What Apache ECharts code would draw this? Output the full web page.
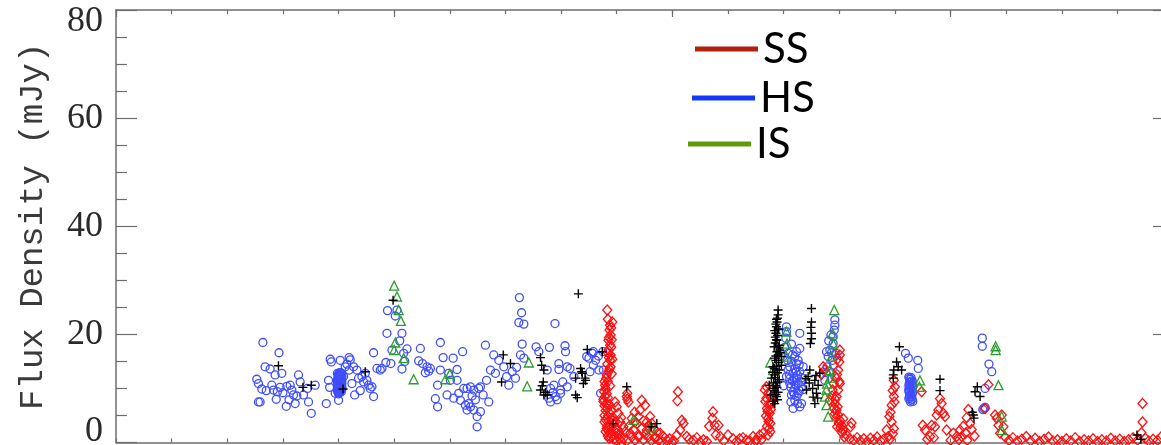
<!DOCTYPE html>
<html>
<head>
<meta charset="utf-8">
<title>Flux Density</title>
<script src="https://cdn.jsdelivr.net/npm/echarts@6/dist/echarts.min.js"></script>
<style>
  html, body { margin: 0; padding: 0; background: #fff; }
  #chart { width: 1161px; height: 445px; }
</style>
</head>
<body>
<div id="chart"></div>
<script>
// Time axis in days from the start of the monitoring; flux density in mJy.
const xRange = [0, 1880];
const yTicks = [0, 20, 40, 60, 80];
const legendNames = ['SS', 'HS', 'IS'];

// Hard state (open blue circles)
const hsData = [
  [264,18.5],[293,16.6],[268,14.0],[277,13.6],[286,12.5],[298,12.8],[253,11.7],[256,10.9],[280,10.6],[295,10.2],
  [307,10.4],[313,10.6],[328,12.5],[331,11.2],[319,8.8],[325,8.6],[337,8.8],[256,7.5],[259,7.5],[288,8.0],
  [306,6.7],[322,7.2],[346,7.5],[351,5.4],[358,10.6],[283,9.7],[290,9.4],[316,9.7],[262,9.9],[270,9.6],
  [300,9.2],[311,7.9],[344,10.0],
  [385,15.4],[387,14.9],[403,15.2],[419,15.7],[382,11.5],[384,10.2],[394,9.1],[400,7.8],[378,7.2],[412,14.0],
  [427,14.0],[433,13.4],[436,11.9],[445,11.2],[451,11.5],[454,10.6],[460,10.3],[463,16.6],[469,13.7],[475,13.4],
  [478,13.7],[429,8.8],[457,10.0],[463,8.5],[442,12.2],[409,12.2],[419,13.4],[424,10.9],[415,14.5],[421,15.3],
  [448,12.8],[439,9.6],
  [398,12.8],[401,12.5],[404,12.2],[399,11.9],[403,11.6],[400,11.3],[405,11.0],[399,10.7],[402,10.4],[400,10.1],
  [404,9.8],[401,9.5],[399,9.3],[405,12.6],[406,11.5],[402,12.9],[406,10.2],[398,10.0],
  [400,12.7],[403,12.4],[406,12.1],[398,11.6],[401,11.8],[404,11.4],[406,10.9],[398,11.0],[401,10.8],[404,10.5],
  [398,10.4],[406,9.9],[401,9.9],[403,9.5],[398,9.6],[405,9.4],[402,9.2],[400,9.0],[404,12.9],[399,12.3],
  [485,14.8],[494,14.6],[487,20.2],[488,24.4],[505,24.5],[502,23.4],[514,20.2],[517,16.5],[523,17.3],[514,13.6],
  [496,17.1],[510,18.8],[519,15.0],
  [547,17.4],[544,15.1],[551,14.6],[559,14.0],[565,13.7],[583,18.5],[588,15.7],[606,15.6],[623,16.8],[613,13.5],
  [583,13.4],[578,10.6],[574,8.1],[578,6.6],[595,8.8],[616,9.1],[625,10.0],[631,10.0],[637,10.3],[643,9.7],
  [652,10.0],[655,10.3],[628,6.9],[631,6.0],[637,6.6],[643,6.0],[649,4.8],[649,2.9],[655,5.7],[670,7.5],
  [664,18.0],[666,11.5],[673,13.4],[679,16.2],[682,12.8],[688,15.2],[613,11.5],[601,11.5],[598,12.8],[619,7.8],
  [607,8.2],[562,13.2],[556,12.9],[640,8.6],[660,8.8],[646,7.9],[634,7.2],
  [725,26.8],[729,24.0],[724,22.2],[733,21.9],[730,18.2],[727,16.2],[733,15.6],[697,14.0],[712,13.1],[718,11.9],
  [706,10.6],[755,17.7],[760,16.8],[779,17.6],[789,22.0],[807,17.9],[808,16.8],[796,13.5],[811,14.0],[816,13.7],
  [781,10.0],[787,10.6],[799,9.7],[781,7.5],[790,8.5],[799,9.1],[811,10.3],[823,12.2],[850,15.6],[856,16.5],
  [862,15.2],[871,9.1],[868,13.4],[775,13.4],[796,14.6],[846,15.9],[858,16.8],[858,14.3],[867,16.0],[875,16.8],
  [876,13.4],[852,13.1],[785,9.2],[793,7.9],[803,11.2],[778,8.2],[702,12.2],[720,13.9],
  [1205,21.4],[1205,20.5],[1204,19.3],[1229,20.2],[1223,16.8],[1220,15.9],[1226,15.2],[1211,14.0],[1217,12.8],[1229,13.1],
  [1223,11.9],[1211,10.9],[1220,10.0],[1232,10.3],[1226,9.1],[1220,7.8],[1232,7.2],[1217,6.3],[1205,12.2],[1214,8.8],
  [1199,15.9],[1235,14.0],[1208,16.5],[1214,18.2],[1202,17.6],[1229,17.4],[1211,11.8],[1217,9.4],[1223,8.5],[1208,13.4],
  [1226,11.0],[1232,12.0],[1220,13.6],[1214,15.0],[1235,9.8],[1200,10.5],[1229,6.6],[1223,14.6],
  [1210,12.6],[1216,11.4],[1222,10.6],[1228,9.6],[1213,10.2],[1219,8.9],[1225,12.5],[1231,11.3],[1207,15.2],[1216,16.2],
  [1222,13.0],[1228,14.4],[1213,7.5],[1225,7.2],[1219,11.8],
  [1292,22.7],[1292,21.7],[1291,20.8],[1289,19.6],[1289,18.3],[1283,17.1],[1280,15.9],[1288,15.2],[1278,14.0],[1283,13.1],
  [1292,12.2],[1274,11.5],[1286,16.6],[1290,14.3],[1277,16.8],[1281,18.8],[1285,19.9],[1294,16.5],[1276,13.0],
  [1419,16.5],[1424,15.6],[1441,15.2],[1442,13.7],
  [1425,12.1],[1428,11.7],[1431,11.4],[1426,11.1],[1430,10.8],[1427,10.5],[1432,10.2],[1425,9.9],[1429,9.6],[1426,9.3],
  [1431,9.0],[1427,8.7],[1430,8.4],[1425,8.1],[1428,7.8],[1432,7.6],[1426,11.9],[1432,11.0],[1429,12.0],
  [1428,11.2],[1425,10.6],[1431,10.4],[1428,10.0],[1425,9.5],[1432,9.3],[1429,8.9],[1426,8.4],[1431,8.0],[1428,7.5],
  [1557,19.3],[1557,17.8],[1569,14.5],[1574,13.1],[1562,10.0],[1560,6.3],[1562,6.5],[1558,6.1]
];

// Soft state (open red diamonds)
const ssData = [
  [883,24.5],[888,21.7],[887,20.8],[889,19.9],[885,18.9],[888,18.0],[885,17.1],[889,16.2],[888,15.2],[889,14.0],
  [885,13.1],[881,11.9],[879,10.6],[877,9.4],[879,8.5],[881,7.2],[883,6.3],[887,5.4],[891,4.5],[894,3.5],
  [897,2.6],[900,1.7],[905,0.7],[909,0.1],
  [884,22.8],[890,21.2],[886,19.4],[890,17.6],[884,16.6],[886,15.7],[883,14.5],[887,13.6],[882,12.5],[884,11.3],
  [880,10.0],[882,9.0],[876,8.0],[878,6.8],[880,5.9],[884,4.9],[886,4.0],[889,3.1],[885,2.2],[892,1.3],
  [895,0.6],[880,4.2],[883,3.0],[887,1.8],[890,0.9],[878,11.3],[876,7.6],[878,5.0],[882,2.6],[886,0.8],[900,0.4],
  [892,22.3],[891,19.0],[892,15.4],[891,12.7],[888,10.5],[884,8.3],[887,7.0],[890,6.0],[893,4.0],[897,3.8],
  [902,2.4],[906,1.5],[880,2.0],[884,1.2],[878,3.8],
  [918,8.5],[921,7.5],[919,9.1],[919,8.0],[897,7.5],[900,6.6],[903,5.4],[906,3.8],[912,2.9],[924,1.7],
  [930,2.3],[936,3.5],[945,7.8],[951,6.9],[942,6.0],[939,4.8],[933,3.8],[954,3.8],[960,4.8],[963,3.5],
  [966,2.6],[972,2.0],[978,1.7],[984,1.1],[954,2.3],[945,2.6],[990,0.4],[999,0.1],[1010,9.4],[1009,7.7],
  [1017,4.1],[1020,3.5],[1014,2.3],[1026,1.1],[1008,1.4],[1038,0.4],[1050,0.1],[1073,5.7],[1072,4.5],[1076,3.2],
  [1066,3.0],[1083,3.2],[1078,1.4],[1086,1.1],[1100,1.4],[1109,0.7],[1121,0.7],[1133,0.4],[1145,1.1],[1157,1.4],
  [1163,1.7],
  [912,0.8],[918,0.3],[927,1.0],[933,0.4],[940,1.2],[948,0.5],[957,1.0],[962,0.3],[969,0.8],[975,0.4],
  [981,0.2],[995,0.7],[1003,0.3],[1030,0.6],[1044,0.9],[1056,0.5],[1062,0.2],[1092,0.3],[1115,0.2],[1127,0.9],
  [1139,0.3],[1151,0.6],[915,2.0],[922,3.0],[927,4.5],[932,5.6],[948,4.0],[957,3.0],[969,1.0],[951,1.5],
  [939,1.0],[908,4.6],[1150,0.2],[1160,0.5],
  [1169,10.3],[1166,9.7],[1172,9.1],[1169,8.2],[1174,7.2],[1170,6.3],[1175,5.4],[1172,4.5],[1176,3.5],[1174,2.6],
  [1178,7.2],[1178,8.5],[1167,7.6],[1171,5.8],[1168,4.9],[1173,3.9],[1170,3.0],[1177,6.1],[1176,2.0],[1172,1.4],
  [1271,14.0],[1274,13.4],[1268,12.6],
  [1301,17.1],[1301,16.2],[1300,14.9],[1298,13.4],[1295,11.9],[1301,10.9],[1298,9.7],[1295,8.5],[1292,7.2],[1295,6.0],
  [1298,5.1],[1301,4.1],[1304,3.2],[1307,2.3],[1313,1.4],[1322,3.6],[1319,0.7],[1288,9.7],[1290,10.9],[1283,7.8],
  [1307,4.4],[1297,15.5],[1296,12.6],[1300,11.3],[1293,8.0],[1297,6.6],[1290,6.3],[1294,4.6],[1299,3.6],[1302,2.7],
  [1305,1.8],[1309,1.0],[1320,2.9],[1287,8.6],[1292,5.3],[1296,2.9],
  [1326,0.4],[1332,0.9],[1338,0.3],[1344,0.7],[1350,0.2],[1356,0.8],[1362,0.4],[1368,1.0],[1374,0.3],[1380,0.6],
  [1398,11.5],[1400,10.3],[1398,8.5],[1394,6.9],[1390,4.8],[1394,3.8],[1398,2.6],[1385,2.3],[1388,1.1],[1396,9.6],
  [1399,7.5],[1392,5.6],[1396,1.6],[1391,0.6],
  [1448,9.4],[1450,3.2],[1454,2.3],[1466,3.2],[1472,2.9],[1463,1.1],[1481,8.1],[1484,7.2],[1478,6.0],[1487,5.4],
  [1490,4.8],[1475,5.1],[1493,2.3],[1505,1.7],[1511,1.1],[1517,2.3],[1520,1.1],[1500,0.4],[1458,0.6],[1470,0.9],
  [1532,6.1],[1529,4.6],[1535,3.5],[1523,3.0],[1527,1.7],[1538,2.4],[1515,0.5],[1530,0.4],[1543,1.2],
  [1568,10.7],[1562,6.3],[1580,5.1],[1583,4.5],[1592,5.1],[1586,3.2],[1595,2.9],[1589,1.7],[1598,1.0],
  [1605,0.4],[1612,0.9],[1620,0.3],[1628,0.6],[1636,1.1],[1644,0.3],[1652,0.8],[1660,0.2],[1668,0.6],[1676,1.0],
  [1684,0.3],[1692,0.5],[1700,0.2],[1708,0.7],[1716,0.3],[1724,0.9],[1732,0.2],[1740,0.5],[1748,0.3],[1756,0.7],
  [1764,0.2],[1772,0.5],[1780,0.3],[1788,0.8],[1796,0.3],[1804,0.6],[1812,0.2],[1820,0.5],[1828,0.9],[1836,0.4],
  [1845,7.2],[1845,3.8],[1843,1.8],[1850,0.8],[1856,0.3],[1864,0.6],[1872,0.4],[1878,1.0]
];

// Intermediate state (open green triangles)
const isData = [
  [500,29.0],[505,27.0],[508,24.5],[512,22.5],[502,18.5],[500,17.1],[517,15.6],[535,11.7],[600,12.7],[592,11.7],
  [742,14.8],[739,10.4],[930,4.2],[962,2.8],
  [1291,24.5],[1205,20.5],[1206,18.3],[1205,15.9],[1288,20.2],[1289,18.3],[1286,15.9],[1283,13.4],[1278,10.9],[1274,8.5],
  [1277,6.9],[1280,4.8],[1181,13.4],[1176,14.8],[1445,11.5],[1444,10.3],[1581,17.8],[1581,17.1],[1586,10.6],[1592,4.8],
  [1592,2.3],[1277,9.8],[1284,12.0]
];

// Unclassified observations (black plus signs)
const otherData = [
  [292,14.2],[336,10.2],[351,10.6],[408,9.9],[448,13.1],[498,26.3],[696,16.2],[709,14.6],[693,11.2],[763,15.7],
  [765,14.3],[769,13.4],[768,11.2],[763,9.7],[769,8.8],[775,8.8],[826,11.9],[835,13.7],[838,12.8],[844,11.5],
  [826,8.8],[829,8.3],[847,17.2],[874,16.8],[831,27.5],[837,13.1],[843,11.9],[840,10.9],[918,10.3],[894,3.5],
  [962,2.9],[972,3.5],[766,10.5],[772,9.3],
  [1190,24.5],[1190,23.6],[1188,22.3],[1187,21.4],[1186,20.2],[1188,18.9],[1192,18.0],[1193,17.1],[1190,16.2],[1187,15.2],
  [1196,15.9],[1181,14.0],[1192,13.4],[1184,12.5],[1178,11.9],[1189,11.2],[1181,10.0],[1187,8.5],[1184,7.2],[1174,10.6],
  [1196,14.3],[1185,19.5],[1191,20.9],[1183,17.7],[1194,16.6],[1180,13.0],[1186,10.5],[1190,9.3],[1177,8.8],
  [1189,23.0],[1187,22.8],[1186,21.9],[1190,21.0],[1184,20.7],[1189,19.8],[1187,19.0],[1185,18.4],[1191,17.5],[1188,16.8],
  [1186,16.0],[1184,15.6],[1191,14.8],[1187,14.1],[1183,13.7],[1189,12.9],[1185,12.0],[1192,11.6],[1182,11.0],[1188,10.2],
  [1183,9.6],[1186,8.9],[1189,7.9],[1181,7.6],
  [1250,24.8],[1250,22.3],[1250,20.2],[1248,18.3],[1247,13.4],[1244,12.2],[1256,11.5],[1252,10.0],[1259,9.1],[1256,7.2],
  [1241,9.7],[1265,12.8],[1262,10.6],[1249,21.3],[1250,19.2],[1246,11.0],[1258,12.4],[1253,8.4],[1240,11.8],[1261,8.2],
  [1408,17.7],[1403,14.9],[1406,14.0],[1398,13.4],[1412,13.4],[1397,12.5],[1397,11.9],[1481,11.7],[1481,9.6],[1548,10.3],
  [1544,9.4],[1553,8.5],[1541,5.1],[1542,4.5],[1539,5.6],[1835,1.4],[1842,0.6]
];

const axisColor = '#6e6e6e';
const plusPath = 'path://M5,0 L5,10 M0,5 L10,5';
const gridBox = { left: 116, right: -1, top: 10, bottom: 2.5, outerBoundsMode: 'none' };

const chart = echarts.init(document.getElementById('chart'), null, { renderer: 'canvas' });

function legendItem(name, color, left, top) {
  return {
    left: left, top: top, padding: 0,
    orient: 'vertical',
    itemWidth: 63, itemHeight: 5,
    icon: 'rect',
    selectedMode: false,
    textStyle: { fontFamily: 'Lato', fontSize: 42, color: '#000' },
    data: [{ name: name, itemStyle: { color: color, borderWidth: 0, opacity: 1 } }]
  };
}

const hollow = (c, w) => ({ color: 'rgba(0,0,0,0)', borderColor: c, borderWidth: w, opacity: 1 });
const tickLine = { color: axisColor, width: 1.2 };
const frameLine = { onZero: false, lineStyle: { color: axisColor, width: 1.5 } };

// End labels of the flux axis sit inside the frame.
function yLabel(v) {
  if (v === yTicks[0]) return '{lo|' + v + '}';
  if (v === yTicks[yTicks.length - 1]) return '{hi|' + v + '}';
  return String(v);
}
const labelFont = { fontFamily: 'Liberation Serif', fontSize: 36, color: '#2a2a2a' };

chart.setOption({
  animation: false,
  backgroundColor: '#fff',
  grid: [gridBox, Object.assign({}, gridBox)],
  legend: [
    legendItem(legendNames[0], '#b3200c', 695, 28),
    legendItem(legendNames[1], '#1238ff', 692, 77),
    legendItem(legendNames[2], '#5c9a0c', 688, 123)
  ],
  xAxis: [
    {
      gridIndex: 0, type: 'value', position: 'bottom', min: xRange[0], max: xRange[1], interval: 100,
      axisLine: frameLine,
      axisTick: { inside: true, length: 4, lineStyle: tickLine },
      axisLabel: { show: false }, splitLine: { show: false }
    },
    {
      gridIndex: 0, type: 'value', position: 'top', min: xRange[0], max: xRange[1], interval: 500,
      axisLine: frameLine,
      axisTick: { inside: true, length: 7, lineStyle: tickLine },
      axisLabel: { show: false }, splitLine: { show: false }
    },
    {
      gridIndex: 1, type: 'value', position: 'top', min: xRange[0], max: xRange[1], interval: 100,
      axisLine: { show: false, onZero: false },
      axisTick: { inside: true, length: 4, lineStyle: tickLine },
      axisLabel: { show: false }, splitLine: { show: false }
    }
  ],
  yAxis: [
    {
      gridIndex: 0, type: 'value', position: 'left', min: yTicks[0], max: yTicks[yTicks.length - 1], interval: 20,
      name: 'Flux Density (mJy)', nameLocation: 'middle', nameGap: 66, nameRotate: 90,
      nameTextStyle: { fontFamily: 'Liberation Mono', fontSize: 34, color: '#3a3a3a' },
      axisLine: Object.assign({ show: true }, frameLine),
      axisTick: { inside: true, length: 21, lineStyle: tickLine },
      minorTick: { show: true, splitNumber: 4, length: 11, lineStyle: tickLine },
      axisLabel: Object.assign({
        margin: 13,
        formatter: yLabel,
        rich: {
          lo: Object.assign({ padding: [0, 0, 22, 0] }, labelFont),
          hi: Object.assign({ padding: [24, 0, 0, 0] }, labelFont)
        }
      }, labelFont),
      splitLine: { show: false }, minorSplitLine: { show: false }
    },
    {
      gridIndex: 0, type: 'value', position: 'right', min: yTicks[0], max: yTicks[yTicks.length - 1], interval: 20,
      axisLine: Object.assign({ show: true }, frameLine),
      axisTick: { inside: true, length: 9, lineStyle: tickLine },
      axisLabel: { show: false }, splitLine: { show: false }
    },
    {
      gridIndex: 1, type: 'value', show: false, min: yTicks[0], max: yTicks[yTicks.length - 1]
    }
  ],
  series: [
    {
      name: 'HS', type: 'scatter', xAxisIndex: 0, yAxisIndex: 0, data: hsData,
      symbol: 'circle', symbolSize: 8, itemStyle: hollow('#3f4eff', 1.3)
    },
    {
      name: 'SS', type: 'scatter', xAxisIndex: 0, yAxisIndex: 0, data: ssData,
      symbol: 'diamond', symbolSize: [9, 10], itemStyle: hollow('#ff1010', 1.3)
    },
    {
      name: 'IS', type: 'scatter', xAxisIndex: 0, yAxisIndex: 0, data: isData,
      symbol: 'triangle', symbolSize: 9, itemStyle: hollow('#2a9e2a', 1.3)
    },
    {
      name: 'other', type: 'scatter', xAxisIndex: 0, yAxisIndex: 0, data: otherData,
      symbol: plusPath, symbolSize: 9,
      itemStyle: { color: 'rgba(0,0,0,0)', borderColor: '#000', borderWidth: 1.4, opacity: 1 }
    }
  ]
});
</script>
</body>
</html>
